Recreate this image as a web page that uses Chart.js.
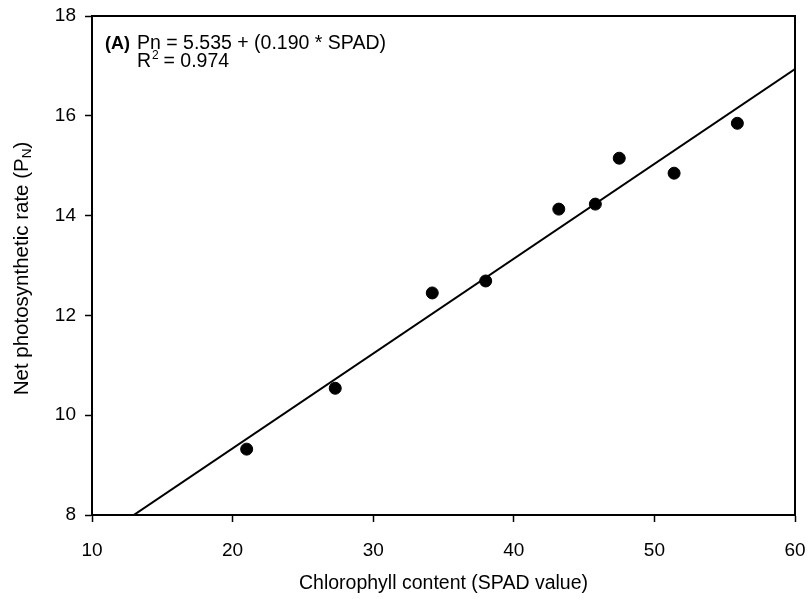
<!DOCTYPE html>
<html>
<head>
<meta charset="utf-8">
<script src="https://cdn.jsdelivr.net/npm/chart.js@4.4.1/dist/chart.umd.min.js"></script>
<style>
  body { margin: 0; background: #fff; }
  #wrap { width: 810px; height: 599px; }
</style>
</head>
<body>
<div id="wrap"><canvas id="pnChart"></canvas></div>
<script>
// Datos
const spadValues = [21.0, 27.3, 34.2, 38.0, 43.2, 45.8, 47.5, 51.4, 55.9];
const pnValues = [9.32, 10.54, 12.45, 12.69, 14.13, 14.23, 15.15, 14.85, 15.85];
const xTicks = [10, 20, 30, 40, 50, 60];
const yTicks = [8, 10, 12, 14, 16, 18];

// Recta de regresión: Pn = 5.535 + 0.190 * SPAD
const fitIntercept = 5.535;
const fitSlope = 0.190;
const fitRange = [10, 60];

const labelA = '(A)';
const eqText = 'Pn = 5.535 + (0.190 * SPAD)';
const r2Value = '0.974';
const xTitle = 'Chlorophyll content (SPAD value)';
const yTitle = 'Net photosynthetic rate (P';
const yTitleSub = 'N';

const FONT = '"Liberation Sans", Arial, sans-serif';

const points = spadValues.map((x, i) => ({ x: x, y: pnValues[i] }));
const fitLine = fitRange.map(x => ({ x: x, y: fitIntercept + fitSlope * x }));

// Marco, anotación y título del eje Y
const extras = {
  id: 'extras',
  afterDraw(chart) {
    const { ctx, chartArea: a } = chart;
    ctx.save();
    ctx.strokeStyle = '#000';
    ctx.lineWidth = 2;
    ctx.strokeRect(a.left, a.top, a.right - a.left, a.bottom - a.top);

    ctx.fillStyle = '#000';
    ctx.textBaseline = 'alphabetic';
    ctx.textAlign = 'left';
    ctx.font = 'bold 18px ' + FONT;
    ctx.fillText(labelA, a.left + 13, a.top + 33);
    ctx.font = '19.5px ' + FONT;
    ctx.fillText(eqText, a.left + 45, a.top + 33);

    // R²
    const rx = a.left + 45, ry = a.top + 51;
    ctx.fillText('R', rx, ry);
    const rw = ctx.measureText('R').width;
    ctx.font = '12px ' + FONT;
    ctx.fillText('2', rx + rw + 1, ry - 8);
    ctx.font = '19.5px ' + FONT;
    ctx.fillText(' = ' + r2Value, rx + rw + 7, ry);

    // Título del eje Y con subíndice
    ctx.translate(22, (a.top + a.bottom) / 2 + 3);
    ctx.rotate(-Math.PI / 2);
    ctx.font = '20.5px ' + FONT;
    const w1 = ctx.measureText(yTitle).width;
    ctx.font = '13.5px ' + FONT;
    const w2 = ctx.measureText(yTitleSub).width;
    ctx.font = '20.5px ' + FONT;
    const w3 = ctx.measureText(')').width;
    let sx = -(w1 + w2 + w3) / 2;
    ctx.textBaseline = 'middle';
    ctx.fillText(yTitle, sx, 0);
    ctx.font = '13.5px ' + FONT;
    ctx.fillText(yTitleSub, sx + w1, 5);
    ctx.font = '20.5px ' + FONT;
    ctx.fillText(')', sx + w1 + w2, 0);
    ctx.restore();
  }
};

const ctx = document.getElementById('pnChart').getContext('2d');
const pnChart = new Chart(ctx, {
  type: 'scatter',
  data: {
    datasets: [{
      label: 'Pn',
      data: points,
      backgroundColor: '#000',
      borderColor: '#000',
      pointRadius: 6,
      pointHoverRadius: 6
    }, {
      label: 'Regresión',
      data: fitLine,
      showLine: true,
      borderColor: '#000',
      borderWidth: 2,
      pointRadius: 0,
      fill: false
    }]
  },
  options: {
    responsive: true,
    maintainAspectRatio: false,
    animation: false,
    layout: { padding: { left: 0, top: 16, right: 15, bottom: 0 } },
    plugins: {
      legend: { display: false },
      tooltip: { enabled: false }
    },
    scales: {
      x: {
        type: 'linear',
        min: 10, max: 60,
        afterBuildTicks: s => { s.ticks = xTicks.map(v => ({ value: v })); },
        afterFit: s => { s.height = 84; s.paddingLeft = 0; s.paddingRight = 0; },
        border: { display: true, color: '#000', width: 2 },
        grid: { drawOnChartArea: false, drawTicks: true, tickLength: 7, tickColor: '#000', tickWidth: 1.5 },
        ticks: { color: '#000', padding: 17, font: { family: FONT, size: 19 }, maxRotation: 0 },
        title: { display: true, text: xTitle, color: '#000', font: { family: FONT, size: 19.5 }, padding: { top: 8 } }
      },
      y: {
        type: 'linear',
        min: 8, max: 18,
        afterBuildTicks: s => { s.ticks = yTicks.map(v => ({ value: v })); },
        afterFit: s => { s.width = 92; s.paddingTop = 0; s.paddingBottom = 0; },
        border: { display: true, color: '#000', width: 2 },
        grid: { drawOnChartArea: false, drawTicks: true, tickLength: 7, tickColor: '#000', tickWidth: 1.5 },
        ticks: { color: '#000', padding: 9, font: { family: FONT, size: 19 } }
      }
    }
  },
  plugins: [extras]
});
</script>
</body>
</html>
